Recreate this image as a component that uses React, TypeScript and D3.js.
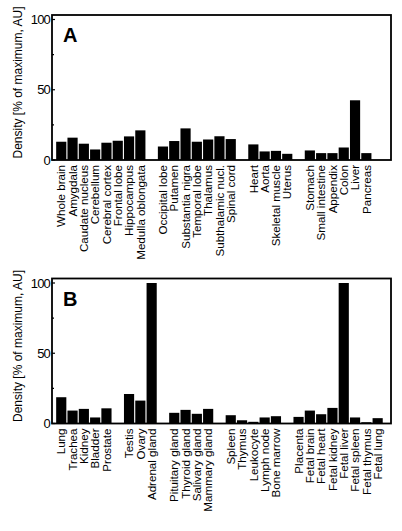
import React from "react";
import * as d3 from "d3";

const catsA: string[] = [
  "Whole brain", "Amygdala", "Caudate nucleus", "Cerebellum", "Cerebral cortex", "Frontal lobe", "Hippocampus", "Medulla oblongata",
  "",
  "Occipital lobe", "Putamen", "Substantia nigra", "Temporal lobe", "Thalamus", "Subthalamic nucl.", "Spinal cord",
  "",
  "Heart", "Aorta", "Skeletal muscle", "Uterus",
  "",
  "Stomach", "Small intestine", "Appendix", "Colon", "Liver", "Pancreas",
];
const valsA: (number | null)[] = [
  13.0, 15.9, 11.6, 7.5, 12.3, 13.7, 16.8, 21.1,
  null,
  9.6, 13.5, 22.5, 13.0, 14.6, 16.9, 14.9,
  null,
  11.1, 6.1, 6.5, 4.4,
  null,
  6.8, 4.9, 4.9, 8.9, 42.5, 4.9,
];

const catsB: string[] = [
  "Lung", "Trachea", "Kidney", "Bladder", "Prostate",
  "",
  "Testis", "Ovary", "Adrenal gland",
  "",
  "Pituitary gland", "Thyroid gland", "Salivary gland", "Mammary gland",
  "",
  "Spleen", "Thymus", "Leukocyte", "Lymph node", "Bone marrow",
  "",
  "Placenta", "Fetal brain", "Fetal heart", "Fetal kidney", "Fetal liver", "Fetal spleen", "Fetal thymus", "Fetal lung",
];
const valsB: (number | null)[] = [
  18.7, 9.2, 10.4, 4.3, 10.8,
  null,
  21.0, 16.3, 100,
  null,
  7.6, 9.7, 6.9, 10.4,
  null,
  5.9, 2.3, 1.2, 4.3, 5.2,
  null,
  4.7, 9.2, 6.6, 11.1, 100, 4.3, 0.9, 3.8,
];

const yTicks = [0, 50, 100];
const yMinor = [25, 75];
const yTitle = "Density [% of maximum, AU]";

const FONT = "'Liberation Sans', Arial, Helvetica, sans-serif";

function Panel({ cats, vals, letter, top }: { cats: string[]; vals: (number | null)[]; letter: string; top: number }) {
  const left = 52;
  const right = 391;
  const frameTop = top;
  const frameBottom = top + 145;
  const y = d3.scaleLinear().domain([0, 100]).range([frameBottom, frameTop + 4.5]);
  const slot = 11.3;
  const keys = cats.map((_, i) => String(i));
  const x = d3
    .scaleBand<string>()
    .domain(keys)
    .range([55.6, 55.6 + slot * cats.length])
    .paddingInner(0.1)
    .paddingOuter(0.05);
  return (
    <g>
      {vals.map((v, i) =>
        v == null ? null : (
          <rect
            key={i}
            x={x(keys[i])}
            y={y(v)}
            width={x.bandwidth()}
            height={y(0) - y(v)}
            fill="#000"
          />
        )
      )}
      <rect x={left} y={frameTop} width={right - left} height={frameBottom - frameTop} fill="none" stroke="#000" strokeWidth={1.8} />
      {yTicks.map((t) => (
        <g key={t}>
          <line x1={left} x2={left + 3} y1={y(t)} y2={y(t)} stroke="#000" strokeWidth={1.2} />
          <text x={left - 2} y={y(t)} dy="0.36em" textAnchor="end" fontFamily={FONT} fontSize={13} letterSpacing={-0.8}>
            {t}
          </text>
        </g>
      ))}
      {yMinor.map((t) => (
        <line key={t} x1={left} x2={left + 2} y1={y(t)} y2={y(t)} stroke="#000" strokeWidth={1.2} />
      ))}
      <text
        transform={`translate(18,${frameTop + 67.5}) rotate(-90)`}
        textAnchor="middle"
        dy="0.35em"
        fontFamily={FONT}
        fontSize={12}
      >
        {yTitle}
      </text>
      <text x={63} y={frameTop + 27} fontFamily={FONT} fontSize={20} fontWeight="bold">
        {letter}
      </text>
      {cats.map((c, i) =>
        c ? (
          <text
            key={i}
            transform={`translate(${(x(keys[i]) as number) + x.bandwidth() / 2},${frameBottom + 5}) rotate(-90)`}
            textAnchor="end"
            dy="0.36em"
            fontFamily={FONT}
            fontSize={11.6}
          >
            {c}
          </text>
        ) : null
      )}
    </g>
  );
}

export default function App() {
  return (
    <svg width={402} height={531} style={{ display: "block", position: "absolute", left: 0, top: 0 }}>
      <rect width={402} height={531} fill="#fff" />
      <Panel cats={catsA} vals={valsA} letter="A" top={15} />
      <Panel cats={catsB} vals={valsB} letter="B" top={278.5} />
    </svg>
  );
}
